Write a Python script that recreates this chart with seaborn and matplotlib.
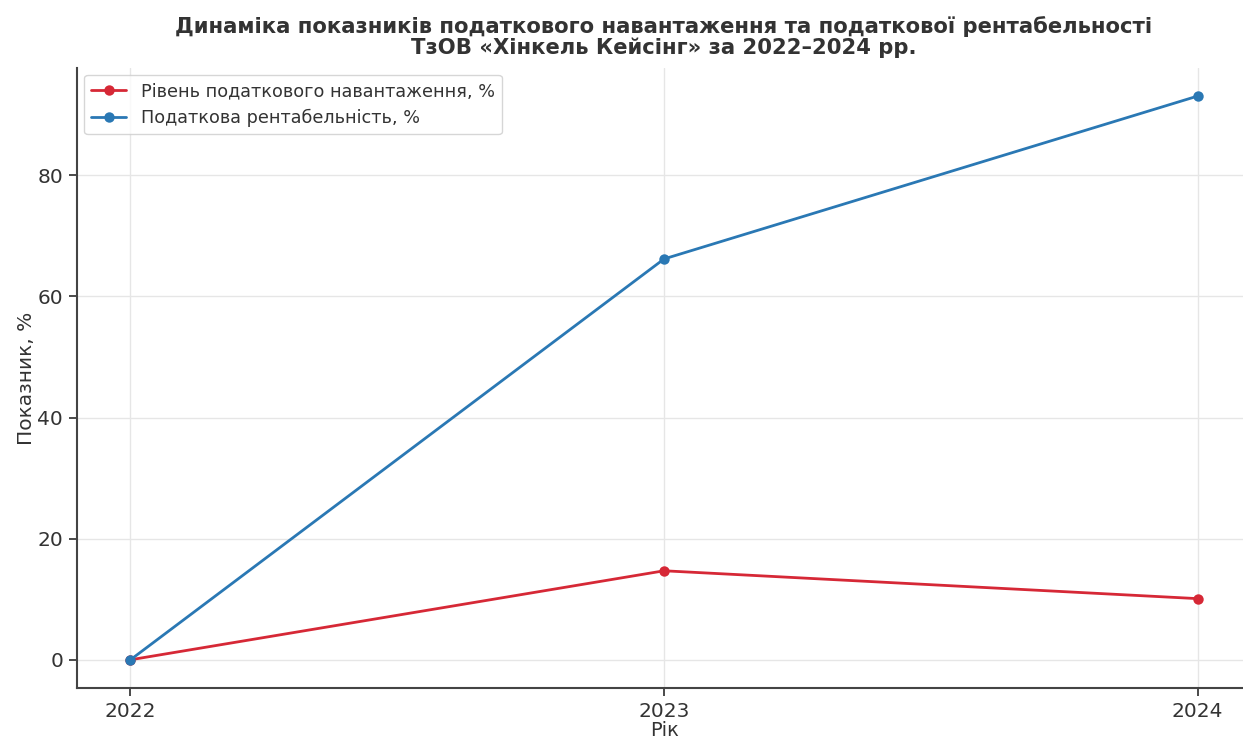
import matplotlib
matplotlib.use("Agg")
import matplotlib.pyplot as plt
import seaborn as sns
import pandas as pd

years = [2022, 2023, 2024]
tax_burden = [0.0, 14.7, 10.1]
tax_profitability = [0.0, 66.2, 93.1]
series_names = ["Рівень податкового навантаження, %", "Податкова рентабельність, %"]
colors = ["#d62836", "#2a78b4"]

df = pd.DataFrame({
    "Рік": years * 2,
    "Показник": tax_burden + tax_profitability,
    "Серія": [series_names[0]] * 3 + [series_names[1]] * 3,
})

sns.set_theme(style="whitegrid")
plt.rcParams["font.family"] = ["DejaVu Sans"]

fig = plt.figure(figsize=(12.43, 7.4), dpi=100)
ax = fig.add_axes([0.062, 0.0703, 0.9445, 0.838])

sns.lineplot(data=df, x="Рік", y="Показник", hue="Серія", palette=colors,
             marker="o", markersize=7.5, markeredgewidth=0, linewidth=2,
             ax=ax)

ax.set_xticks(years)
ax.set_xticklabels([str(y) for y in years])
ax.margins(x=0.05, y=0.05)
ax.set_yticks([0, 20, 40, 60, 80])
ax.tick_params(axis="both", labelsize=14.5, colors="#333333", length=6,
               direction="out", bottom=True, left=True, pad=4)
for lab in ax.get_xticklabels() + ax.get_yticklabels():
    lab.set_color("#333333")
ax.set_xlabel("Рік", fontsize=14, color="#333333", labelpad=0)
ax.set_ylabel("Показник, %", fontsize=14.5, color="#333333", labelpad=1)
ax.grid(True, color="#e6e6e6", linewidth=1)
ax.set_facecolor("white")
for s in ["top", "right"]:
    ax.spines[s].set_visible(False)
for s in ["left", "bottom"]:
    ax.spines[s].set_color("#444444")
    ax.spines[s].set_linewidth(1.5)

leg = ax.legend(loc="upper left", fontsize=12.7, frameon=True, title=None,
                borderaxespad=0.4)
leg.get_frame().set_edgecolor("#cccccc")
for t in leg.get_texts():
    t.set_color("#333333")

fig.suptitle("Динаміка показників податкового навантаження та податкової рентабельності\n"
             "ТзОВ «Хінкель Кейсінг» за 2022–2024 рр.",
             x=0.534, y=0.978, fontsize=15.2, fontweight="bold", color="#333333",
             linespacing=1.0)

fig.savefig("out.png", dpi=100)
